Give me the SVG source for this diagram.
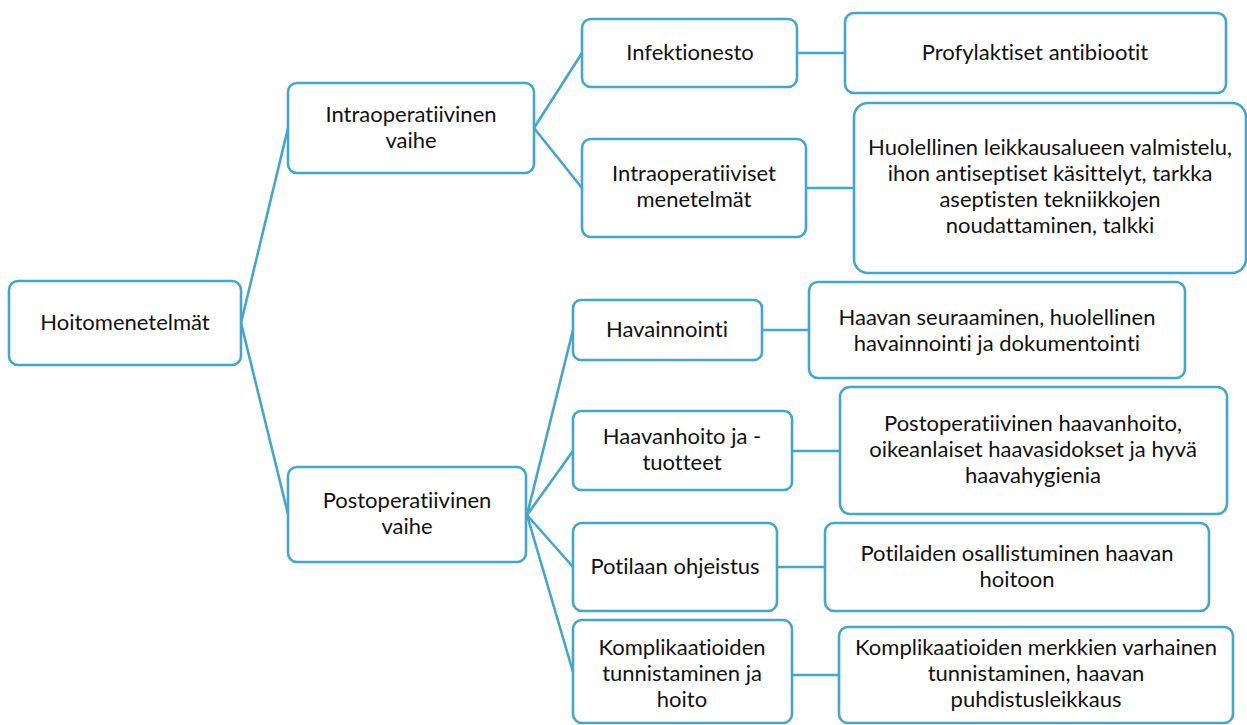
<svg xmlns="http://www.w3.org/2000/svg" width="1247" height="725" viewBox="0 0 1247 725">
<style>
.box{fill:#fff;stroke:#41A7CE;stroke-width:2.6}
.c{fill:none;stroke:#41A7CE;stroke-width:2.6}
text{font-family:Lato,"Open Sans","Liberation Sans",sans-serif;font-size:22px;fill:#111;text-anchor:middle;font-variant-ligatures:none;font-feature-settings:"liga" 0,"clig" 0,"dlig" 0}
</style>
<rect width="1247" height="725" fill="#fff"/>
<g id="connectors">
<path class="c" d="M241 323 L288 128 M241 323 L288 514"/>
<path class="c" d="M534 128 L582 53 M534 128 L582 188"/>
<path class="c" d="M797 53 L845 53 M806 188 L854 188"/>
<path class="c" d="M527 515 L573 330 M527 515 L573 451 M527 515 L573 567 M527 515 L573 672"/>
<path class="c" d="M762 330 L809 330 M792 451 L840 451 M777 567 L825 567 M792 675 L839 675"/>
</g>
<g id="n-root"><rect class="box" x="9" y="281" width="232" height="84" rx="9"/><text x="125" y="330">Hoitomenetelmät</text></g>
<g id="n-intra"><rect class="box" x="288" y="83" width="246" height="90" rx="9"/><text x="411" y="122">Intraoperatiivinen</text><text x="411" y="148">vaihe</text></g>
<g id="n-infektio"><rect class="box" x="582" y="19" width="215" height="68" rx="9"/><text x="690" y="60">Infektionesto</text></g>
<g id="n-intramen"><rect class="box" x="582" y="139" width="224" height="98" rx="9"/><text x="694" y="181">Intraoperatiiviset</text><text x="694" y="207">menetelmät</text></g>
<g id="n-profyl"><rect class="box" x="845" y="13" width="381" height="80" rx="9"/><text x="1035" y="60">Profylaktiset antibiootit</text></g>
<g id="n-huolellinen"><rect class="box" x="854" y="103" width="392" height="170" rx="14"/><text x="1050" y="155">Huolellinen leikkausalueen valmistelu,</text><text x="1050" y="181">ihon antiseptiset käsittelyt, tarkka</text><text x="1050" y="207">aseptisten tekniikkojen</text><text x="1050" y="233">noudattaminen, talkki</text></g>
<g id="n-post"><rect class="box" x="288" y="467" width="238" height="95" rx="9"/><text x="407" y="508">Postoperatiivinen</text><text x="407" y="534">vaihe</text></g>
<g id="n-havainnointi"><rect class="box" x="573" y="300" width="189" height="60" rx="8"/><text x="667" y="337">Havainnointi</text></g>
<g id="n-haavanseur"><rect class="box" x="809" y="282" width="376" height="96" rx="9"/><text x="997" y="325">Haavan seuraaminen, huolellinen</text><text x="997" y="351">havainnointi ja dokumentointi</text></g>
<g id="n-haavanhoito"><rect class="box" x="573" y="411" width="219" height="79" rx="8"/><text x="682" y="444">Haavanhoito ja -</text><text x="682" y="470">tuotteet</text></g>
<g id="n-postophoito"><rect class="box" x="840" y="387" width="387" height="127" rx="10"/><text x="1033" y="431">Postoperatiivinen haavanhoito,</text><text x="1033" y="457">oikeanlaiset haavasidokset ja hyvä</text><text x="1033" y="483">haavahygienia</text></g>
<g id="n-potilaan"><rect class="box" x="573" y="523" width="204" height="88" rx="9"/><text x="675" y="574">Potilaan ohjeistus</text></g>
<g id="n-potilaiden"><rect class="box" x="825" y="523" width="384" height="88" rx="9"/><text x="1017" y="561">Potilaiden osallistuminen haavan</text><text x="1017" y="587">hoitoon</text></g>
<g id="n-kompl"><rect class="box" x="573" y="620" width="219" height="103" rx="9"/><text x="682" y="655">Komplikaatioiden</text><text x="682" y="681">tunnistaminen ja</text><text x="682" y="707">hoito</text></g>
<g id="n-komplmerk"><rect class="box" x="839" y="627" width="394" height="96" rx="9"/><text x="1036" y="655">Komplikaatioiden merkkien varhainen</text><text x="1036" y="681">tunnistaminen, haavan</text><text x="1036" y="707">puhdistusleikkaus</text></g>
</svg>
